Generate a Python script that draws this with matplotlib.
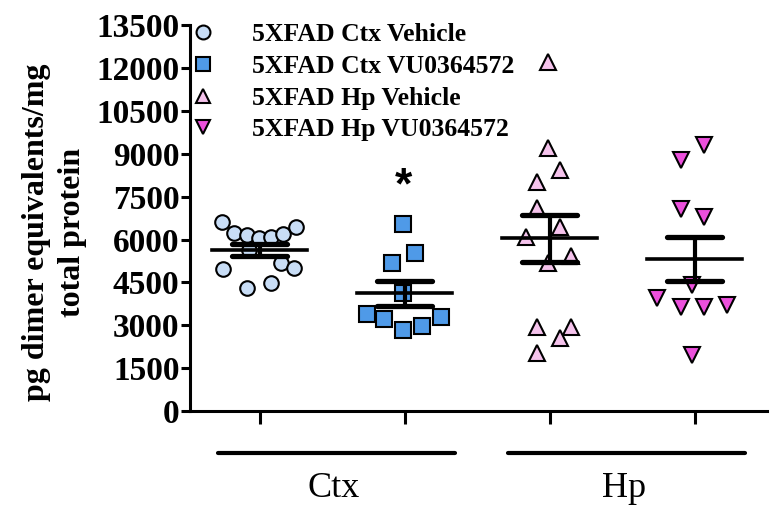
import numpy as np
import matplotlib.pyplot as plt
from matplotlib.lines import Line2D

plt.rcParams['font.family'] = ['Liberation Serif', 'DejaVu Serif']

# values (pg dimer equivalents/mg total protein)
ctx_veh = [6621, 6226, 6156, 6040, 6097, 6191, 6446, 4956, 5166, 4991, 4291, 4466, 5631]
ctx_vu = [6541, 5537, 5166, 4117, 3393, 3207, 2833, 2984, 3277]
hp_veh = [12207, 9188, 8430, 8020, 7090, 6446, 6097, 5421, 5166, 2949, 2927, 2543, 2040]
hp_vu = [9304, 8779, 7055, 6775, 4407, 3942, 3648, 3627, 3708, 1959]

# horizontal scatter of the points inside each column
ctx_veh_dx = [-0.26, -0.18, -0.085, -0.007, 0.08, 0.16, 0.25, -0.25, 0.145, 0.24, -0.085, 0.076, -0.07]
ctx_vu_dx = [-0.01, 0.07, -0.09, -0.01, -0.26, -0.14, -0.01, 0.12, 0.25]
hp_veh_dx = [-0.01, -0.01, 0.07, -0.085, -0.085, 0.07, -0.165, 0.15, -0.01, -0.085, 0.15, 0.07, -0.085]
hp_vu_dx = [0.065, -0.097, -0.097, 0.065, -0.016, -0.257, -0.097, 0.065, 0.22, -0.016]

labels = ['5XFAD Ctx Vehicle', '5XFAD Ctx VU0364572', '5XFAD Hp Vehicle', '5XFAD Hp VU0364572']
markers = ['o', 's', '^', 'v']
sizes = [10.5, 11, 11, 11]
colors = ['#c8ddf6', '#4f9ae8', '#f5c3ec', '#ec50dc']
yticks = [0, 1500, 3000, 4500, 6000, 7500, 9000, 10500, 12000, 13500]
groups = ['Ctx', 'Hp']

fig = plt.figure(figsize=(7.82, 5.11), dpi=100)
ax = fig.add_axes([0.243, 0.1957, 0.738, 0.755])

data = [ctx_veh, ctx_vu, hp_veh, hp_vu]
offs = [ctx_veh_dx, ctx_vu_dx, hp_veh_dx, hp_vu_dx]
for i, (vals, dx) in enumerate(zip(data, offs)):
    pos = i + 1
    x = pos + np.array(dx)
    ax.plot(x, vals, markers[i], ms=sizes[i], mfc=colors[i], mec='black', mew=1.5,
            ls='none', zorder=2, clip_on=False)
    m = np.mean(vals)
    se = np.std(vals, ddof=1) / np.sqrt(len(vals))
    ax.plot([pos - 0.33, pos + 0.33], [m, m], color='black', lw=2.6, zorder=3)
    ax.plot([pos, pos], [m - se, m + se], color='black', lw=3, zorder=3, solid_capstyle='round')
    for yy in (m - se, m + se):
        ax.plot([pos - 0.19, pos + 0.19], [yy, yy], color='black', lw=3.8, zorder=3,
                solid_capstyle='round')

ax.text(1.99, 7850, '*', ha='center', va='center', fontsize=32, fontweight='bold',
        family='Liberation Sans')

ax.set_xlim(0.52, 4.5)
ax.set_ylim(0, 13500)
ax.set_yticks(yticks)
ax.set_yticklabels([str(t) for t in yticks], fontsize=24, fontweight='bold')
ax.set_xticks([1, 2, 3, 4])
ax.set_xticklabels([])
ax.spines['top'].set_visible(False)
ax.spines['right'].set_visible(False)
ax.spines['left'].set_linewidth(2.2)
ax.spines['bottom'].set_linewidth(2.2)
ax.tick_params(axis='y', length=6.5, width=2.2, pad=1)
ax.tick_params(axis='x', length=9, width=2.2)

# group bars and names under the axis
trans = ax.get_xaxis_transform()
for g, c in zip(groups, [1.53, 3.53]):
    ax.plot([c - 0.82, c + 0.82], [-0.109, -0.109], transform=trans, color='black', lw=3,
            solid_capstyle='round', clip_on=False)
    ax.text(c - 0.02, -0.2, g, transform=trans, ha='center', va='center', fontsize=26)

fig.text(0.07, 0.545, 'pg dimer equivalents/mg\ntotal protein', rotation=90,
         ha='center', va='center', multialignment='center', fontsize=23, fontweight='bold',
         linespacing=1.3)

handles = [Line2D([], [], marker=markers[i], ms=sizes[i] - 0.5, mfc=colors[i], mec='black',
                  mew=1.5, ls='none') for i in range(4)]
ax.legend(handles, labels, loc='upper left', bbox_to_anchor=(0.0, 1.005), frameon=False,
          prop={'size': 18.5, 'weight': 'bold'}, handlelength=1.0, handletextpad=1.4,
          labelspacing=0.34, borderpad=0, borderaxespad=0)

fig.savefig('out.png', dpi=100)
